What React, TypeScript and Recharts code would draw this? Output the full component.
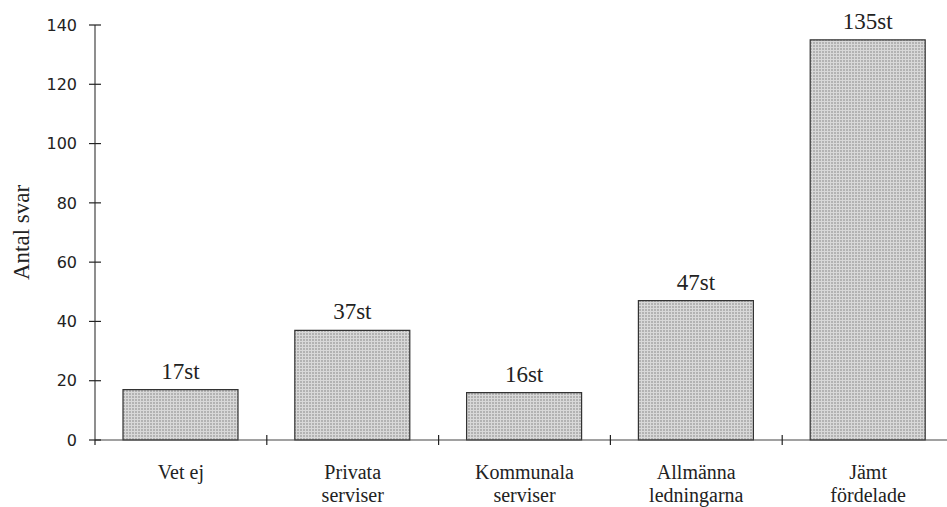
import { BarChart, Bar, XAxis, YAxis, LabelList } from "recharts"

const categories = ["Vet ej", "Privata serviser", "Kommunala serviser", "Allmänna ledningarna", "Jämt fördelade"]
const categoryLines = [["Vet ej"], ["Privata", "serviser"], ["Kommunala", "serviser"], ["Allmänna", "ledningarna"], ["Jämt", "fördelade"]]
const svar = [17, 37, 16, 47, 135]
const yTicks = [0, 20, 40, 60, 80, 100, 120, 140]

const data = categories.map((c, i) => ({ kategori: c, antal: svar[i] }))

const W = 954
const H = 507
const M = { top: 25, right: 0, left: 0, bottom: 0 }
const Y_AXIS_W = 95
const X_AXIS_H = 67
const AXIS_X = M.left + Y_AXIS_W
const AXIS_Y = H - M.bottom - X_AXIS_H
const BAND = (W - M.right - AXIS_X) / categories.length

const SERIF = "serif"
const SANS = "DejaVu Sans"
const INK = "#222"

function YTick({ y, payload }: any) {
  return (
    <g>
      <line x1={AXIS_X - 6} x2={AXIS_X + 6} y1={y} y2={y} stroke={INK} strokeWidth={1.2} />
      <text x={AXIS_X - 18} y={y} dy="0.36em" textAnchor="end" style={{ fontFamily: SANS, fontSize: 16 }} fill={INK}>
        {payload.value}
      </text>
    </g>
  )
}

function XTick({ x, payload, index }: any) {
  const lines = categoryLines[index] ?? [payload.value]
  return (
    <g>
      {index === 0 && (
        <line x1={x - BAND / 2} x2={x - BAND / 2} y1={AXIS_Y} y2={AXIS_Y + 5} stroke={INK} strokeWidth={1.2} />
      )}
      {index < categories.length - 1 && (
        <line x1={x + BAND / 2} x2={x + BAND / 2} y1={AXIS_Y - 5} y2={AXIS_Y + 5} stroke={INK} strokeWidth={1.2} />
      )}
      <text textAnchor="middle" style={{ fontFamily: SERIF, fontSize: 20 }} fill={INK}>
        {lines.map((l: string, i: number) => (
          <tspan key={i} x={x} y={AXIS_Y + 39 + i * 23}>{l}</tspan>
        ))}
      </text>
    </g>
  )
}

function ValueLabel({ x, y, width, value }: any) {
  return (
    <text x={x + width / 2} y={y - 11} textAnchor="middle" style={{ fontFamily: SERIF, fontSize: 23 }} fill={INK}>
      {`${value}st`}
    </text>
  )
}

export default function App() {
  return (
    <div style={{ position: "fixed", left: 0, top: 0, width: 947, height: 507, overflow: "hidden", background: "#fff" }}>
      <BarChart width={W} height={H} data={data} margin={M}>
        <defs>
          <pattern id="raster" width={3} height={3} patternUnits="userSpaceOnUse">
            <rect width={3} height={3} fill="#d8d8d8" />
            <rect width={2} height={2} fill="#b2b2b2" />
          </pattern>
        </defs>
        <XAxis
          dataKey="kategori"
          height={X_AXIS_H}
          interval={0}
          tickLine={false}
          axisLine={{ stroke: "#444", strokeWidth: 1.2 }}
          tick={<XTick />}
        />
        <YAxis
          width={Y_AXIS_W}
          domain={[0, 140]}
          ticks={yTicks}
          interval={0}
          tickLine={false}
          axisLine={{ stroke: "#444", strokeWidth: 1.2 }}
          tick={<YTick />}
          label={{ value: "Antal svar", angle: -90, position: "center", dx: -27, style: { fontFamily: SERIF, fontSize: 23 }, fill: INK }}
        />
        <Bar dataKey="antal" barSize={115} fill="url(#raster)" stroke="#333" strokeWidth={1.2} isAnimationActive={false}>
          <LabelList dataKey="antal" content={<ValueLabel />} />
        </Bar>
      </BarChart>
    </div>
  )
}
